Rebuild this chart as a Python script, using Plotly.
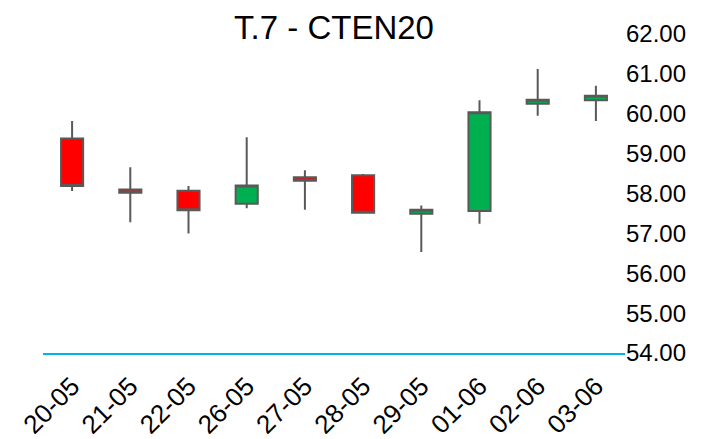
import plotly.graph_objects as go

dates = ["20-05", "21-05", "22-05", "26-05", "27-05", "28-05", "29-05", "01-06", "02-06", "03-06"]
open_ = [59.38, 58.10, 58.07, 57.74, 58.41, 58.46, 57.49, 57.56, 60.25, 60.34]
high = [59.82, 58.66, 58.19, 59.41, 58.58, 58.49, 57.70, 60.34, 61.12, 60.70]
low = [58.06, 57.28, 57.00, 57.63, 57.59, 57.49, 56.53, 57.24, 59.95, 59.82]
close = [58.19, 58.02, 57.58, 58.20, 58.32, 57.52, 57.59, 60.04, 60.35, 60.45]
y_ticks = [54, 55, 56, 57, 58, 59, 60, 61, 62]
title = "T.7 - CTEN20"

fig = go.Figure(go.Candlestick(
    x=dates, open=open_, high=high, low=low, close=close,
    increasing=dict(fillcolor="#00B050", line=dict(color="#595959", width=2)),
    decreasing=dict(fillcolor="#FF0000", line=dict(color="#595959", width=2)),
    whiskerwidth=0,
    showlegend=False,
))

# page body has an 8px margin, so the figure is 8px smaller and margins compensate
W, H = 695, 431
fig.update_layout(
    width=W, height=H,
    margin=dict(l=35, r=78, t=26, b=86),
    paper_bgcolor="white", plot_bgcolor="white",
    font=dict(family="Liberation Sans, Arial, sans-serif", color="#000000", size=24),
    title=dict(text=title, x=0.5, xref="paper", xanchor="center",
               y=1 - 19 / H, yref="container", yanchor="middle",
               font=dict(size=33)),
    boxgap=0.62, boxgroupgap=0,
    xaxis=dict(type="category", range=[-0.5, 9.5], showgrid=False, zeroline=False,
               showline=True, linecolor="#00B0F0", linewidth=1.5,
               tickangle=-45, ticks="", rangeslider=dict(visible=False),
               tickfont=dict(size=26), automargin=False, ticklabelstandoff=6),
    yaxis=dict(side="right", range=[54, 62], tickvals=y_ticks,
               ticktext=[f"{v:.2f}" for v in y_ticks],
               showgrid=False, zeroline=False, showline=False, ticks="",
               tickfont=dict(size=24), automargin=False),
)

fig.write_html("out.html")
